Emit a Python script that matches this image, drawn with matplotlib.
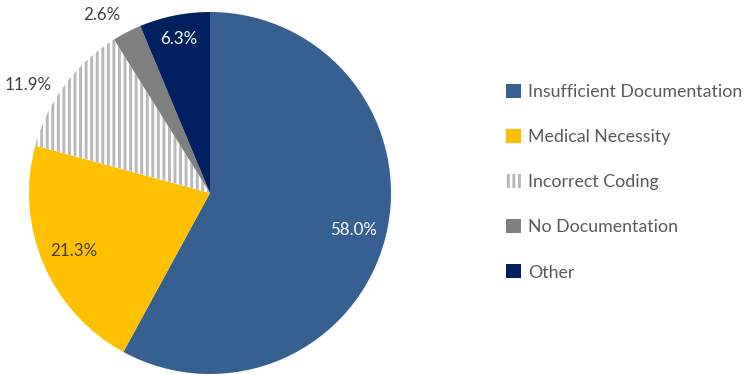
import numpy as np
import matplotlib
matplotlib.use("Agg")
import matplotlib.pyplot as plt

plt.rcParams["font.family"] = ["Lato", "DejaVu Sans"]
plt.rcParams["hatch.linewidth"] = 2.1
plt.rcParams["hatch.color"] = "#b8b8b8"

categories = ["Insufficient Documentation", "Medical Necessity", "Incorrect Coding",
              "No Documentation", "Other"]
shares = [58.0, 21.3, 11.9, 2.6, 6.3]
colors = ["#376092", "#ffc000", "white", "#7f7f7f", "#002060"]
hatches = [None, None, "|||", None, None]
# label radius (fraction of pie radius), angular nudge in degrees and text colour per slice
label_r = [0.82, 0.82, 1.17, 1.15, 0.87]
label_dtheta = [0, 0, 6, 4, 0]
label_colors = ["white", "#404040", "#404040", "#404040", "white"]

W, H = 748, 375
fig = plt.figure(figsize=(W / 100, H / 100), dpi=100)
cx, cy, r = 210, 193, 181
ax = fig.add_axes([(cx - r) / W, (H - cy - r) / H, 2 * r / W, 2 * r / H])

wedges, _ = ax.pie(shares, colors=colors, startangle=90, counterclock=False,
                   radius=1.0, wedgeprops=dict(linewidth=0))
for w, h in zip(wedges, hatches):
    if h:
        w.set_hatch(h)
ax.set_xlim(-1, 1)
ax.set_ylim(-1, 1)
ax.set_aspect("equal")

for w, val, lr, dt, tc in zip(wedges, shares, label_r, label_dtheta, label_colors):
    mid = np.deg2rad((w.theta1 + w.theta2) / 2 + dt)
    ax.text(lr * np.cos(mid), lr * np.sin(mid), f"{val:.1f}%", ha="center",
            va="center", fontsize=12.2, color=tc, clip_on=False)

fig.legend(wedges, categories, loc="upper left", bbox_to_anchor=(499 / W, 1 - 77 / H),
           frameon=False, fontsize=12.8, labelcolor="#595959", handlelength=0.85,
           handleheight=0.85, handletextpad=0.4, labelspacing=1.62, borderaxespad=0)

fig.savefig("out.png", dpi=100)
